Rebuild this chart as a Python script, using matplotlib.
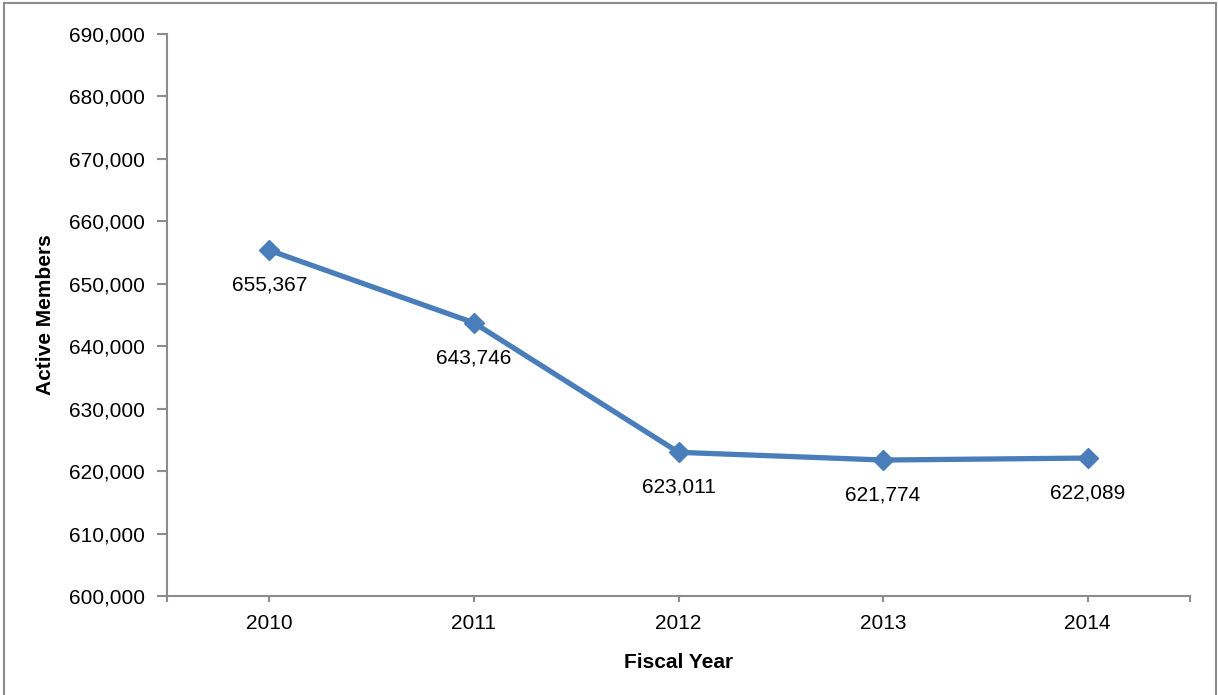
import matplotlib.pyplot as plt
from matplotlib.patches import Rectangle
from matplotlib.ticker import FuncFormatter

years = ['2010', '2011', '2012', '2013', '2014']
members = [655367, 643746, 623011, 621774, 622089]

plt.rcParams['font.family'] = ['Liberation Sans', 'DejaVu Sans']

fig = plt.figure(figsize=(12.18, 6.95), dpi=100)
ax = fig.add_axes([167 / 1218, 1 - 596 / 695, (1190 - 167) / 1218, (596 - 34) / 695])

x = range(len(years))
ax.plot(x, members, color='#4a7ebb', linewidth=3.8, marker='D', markersize=10,
        markerfacecolor='#4a7ebb', markeredgecolor='#4a7ebb', zorder=3)

for i, v in enumerate(members):
    ax.annotate(f'{v:,}', (i, v), xytext=(0, -25), textcoords='offset points',
                ha='center', va='center', fontsize=15)

ax.set_xlim(-0.5, len(years) - 0.5)
ax.set_ylim(600000, 690000)
ax.set_yticks(range(600000, 690001, 10000))
ax.yaxis.set_major_formatter(FuncFormatter(lambda v, p: f'{int(v):,}'))
ax.set_xticks(list(x))
ax.set_xticklabels(years)
ax.set_xticks([-0.5, len(years) - 0.5], minor=True)

for s in ['top', 'right']:
    ax.spines[s].set_visible(False)
for s in ['left', 'bottom']:
    ax.spines[s].set_color('#8c8c8c')
    ax.spines[s].set_linewidth(1.5)

ax.tick_params(axis='y', length=7, width=1.5, color='#8c8c8c', labelsize=15, pad=9)
ax.tick_params(axis='x', which='both', length=4, width=1.5, color='#8c8c8c',
               labelsize=15, pad=9)

ax.set_ylabel('Active Members', fontsize=15, fontweight='bold', labelpad=10)
ax.set_xlabel('Fiscal Year', fontsize=15, fontweight='bold', labelpad=14)

# outer frame around the whole chart
fig.patches.append(Rectangle((4 / 1218, -0.01), 1212 / 1218, 1.0 - 3 / 695 + 0.01,
                             transform=fig.transFigure, fill=False,
                             edgecolor='#8c8c8c', linewidth=1.5))

fig.savefig('out.png', dpi=100)
